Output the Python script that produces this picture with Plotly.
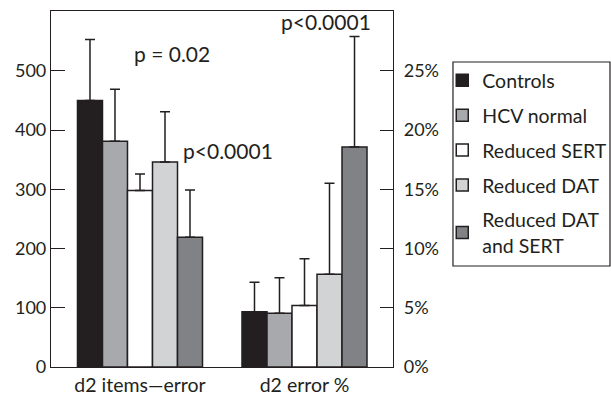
import plotly.graph_objects as go

categories = ["d2 items\u2014error", "d2 error %"]
series = ["Controls", "HCV normal", "Reduced SERT", "Reduced DAT", "Reduced DAT<br>and SERT"]
colors = ["#231f20", "#a7a9ac", "#ffffff", "#d1d3d4", "#808285"]

# d2 items - error (left axis)
items_mean = [450, 381, 298, 346, 219]
items_upper = [553, 469, 326, 431, 299]
# d2 error % (right axis)
pct_mean = [4.67, 4.53, 5.2, 7.82, 18.56]
pct_upper = [7.15, 7.54, 9.14, 15.5, 27.9]

left_ticks = [0, 100, 200, 300, 400, 500]
right_ticks = [0, 5, 10, 15, 20, 25]
right_labels = ["0%", "5%", "10%", "15%", "20%", "25%"]

ink = "#231f20"
fam = "Lato, 'Noto Sans', sans-serif"
font = dict(family=fam, size=18, color=ink)

fig = go.Figure()
for i, name in enumerate(series):
    fig.add_trace(go.Bar(
        x=[categories[0]], y=[items_mean[i]], name=name, legendgroup=name,
        marker=dict(color=colors[i], line=dict(color=ink, width=1.5)),
        error_y=dict(type="data", symmetric=False, array=[items_upper[i] - items_mean[i]],
                     arrayminus=[0], color=ink, thickness=1.5, width=5),
        yaxis="y", showlegend=True, hoverinfo="skip",
    ))
for i, name in enumerate(series):
    fig.add_trace(go.Bar(
        x=[categories[1]], y=[pct_mean[i]], name=name, legendgroup=name,
        marker=dict(color=colors[i], line=dict(color=ink, width=1.5)),
        error_y=dict(type="data", symmetric=False, array=[pct_upper[i] - pct_mean[i]],
                     arrayminus=[0], color=ink, thickness=1.5, width=5),
        yaxis="y2", showlegend=False, hoverinfo="skip",
    ))

fig.update_layout(
    width=611, height=393,
    margin=dict(l=51, r=218, t=11, b=26, autoexpand=False),
    paper_bgcolor="white", plot_bgcolor="white",
    font=font,
    barmode="group", bargap=0.24, bargroupgap=0,
    showlegend=True,
    legend=dict(x=1.144, xanchor="left", y=0.859, yanchor="top",
                bgcolor="rgba(0,0,0,0)", borderwidth=0, tracegroupgap=6.5,
                font=dict(family=fam, size=19.5, color=ink)),
    xaxis=dict(type="category", categoryorder="array", categoryarray=categories,
               range=[-0.541, 1.538], showline=True, linecolor=ink, linewidth=1.2,
               mirror=True, ticks="", showgrid=False, zeroline=False,
               tickfont=dict(family=fam, size=19.5, color=ink), automargin=False),
    yaxis=dict(range=[0, 601], tickvals=left_ticks, ticks="inside", ticklen=14,
               tickcolor=ink, tickwidth=1.2, showline=True, linecolor=ink, linewidth=1.2,
               showgrid=False, zeroline=False, tickfont=font, automargin=False),
    yaxis2=dict(range=[0, 30.05], tickmode="array", tickvals=right_ticks, ticktext=right_labels,
                overlaying="y", side="right", ticks="inside", ticklen=13, tickcolor=ink,
                tickwidth=1.2, showline=True, linecolor=ink, linewidth=1.2, showgrid=False,
                zeroline=False, tickfont=font, automargin=False, ticklabelstandoff=6),
    annotations=[
        dict(x=0.195, y=530, xref="x", yref="y", text="p = 0.02", showarrow=False,
             font=dict(family=fam, size=21, color=ink)),
        dict(x=0.535, y=366, xref="x", yref="y", text="p<0.0001", showarrow=False,
             font=dict(family=fam, size=21, color=ink)),
        dict(x=1.13, y=584, xref="x", yref="y", text="p<0.0001", showarrow=False,
             font=dict(family=fam, size=21, color=ink)),
    ],
    shapes=[
        dict(type="rect", xref="paper", yref="paper", x0=1.1754, x1=1.6345,
             y0=0.2837, y1=0.8567, line=dict(color=ink, width=1.2),
             fillcolor="rgba(0,0,0,0)"),
    ],
)

fig.write_html("out.html", config={"displayModeBar": False},
               post_script="document.body.style.margin='0';")
